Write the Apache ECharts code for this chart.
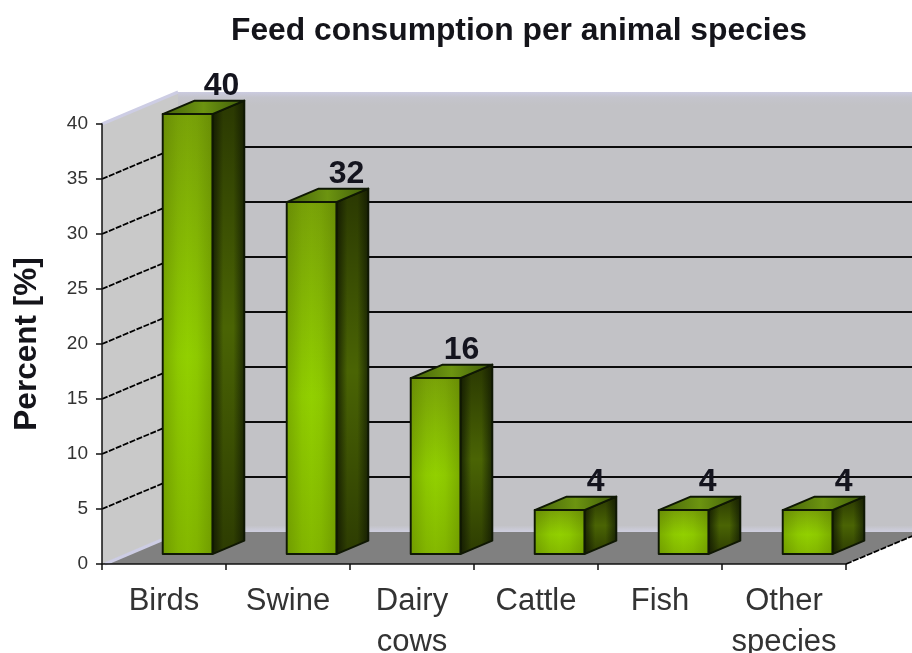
<!DOCTYPE html>
<html>
<head>
<meta charset="utf-8">
<title>Feed consumption per animal species</title>
<style>html,body{margin:0;padding:0;background:#fff}#chart{width:912px;height:653px}</style>
<script src="https://cdn.jsdelivr.net/npm/echarts@6/dist/echarts.min.js"></script>
</head>
<body>
<div id="chart"></div>
<script>
const categories = ['Birds', 'Swine', 'Dairy\ncows', 'Cattle', 'Fish', 'Other\nspecies'];
const percentValues = [40, 32, 16, 4, 4, 4];
const gridLevels = [5, 10, 15, 20, 25, 30, 35];

// Oblique projection of the box: pixels added per full unit of depth.
const depthX = 76;
const depthY = -32;
// Where a bar's front and back faces sit along the depth, and its share of a band.
const barFront = 0.31;
const barBack = 0.73;
const barShare = 0.4;
// Value labels are hand-nudged sideways from the centre of each bar.
const labelShift = [34, 35, 26, 36, 24, 36];

const linear = (x2, y2, stops) => ({
  type: 'linear', x: 0, y: 0, x2, y2,
  colorStops: stops.map(([offset, color]) => ({ offset, color }))
});
const poly = (points, style, z2) => ({ type: 'polygon', shape: { points }, style, z2, silent: true });
const segment = (a, b, style) => ({
  type: 'line', shape: { x1: a[0], y1: a[1], x2: b[0], y2: b[1] }, style, silent: true
});

function renderWalls(params, api) {
  const x0 = 0, xEnd = categories.length - 1;
  const band = api.size([1, 0])[0];
  const left = api.coord([x0, 0])[0] - band / 2;
  const right = api.coord([xEnd, 0])[0] + band / 2;
  const yAt = v => api.coord([x0, v])[1];
  const back = ([x, y]) => [x + depthX, y + depthY];
  const fl = [left, yAt(0)], tl = [left, yAt(40)], fr = [right, yAt(0)];
  const blb = back(fl), blt = back(tl), brb = back(fr), brt = [brb[0], blt[1]];
  const lavender = '#cdcde4';
  const children = [
    poly([tl, blt, blb, fl], { fill: '#c9c9c9' }),
    poly([blt, brt, brb, blb], {
      fill: linear(0, 1, [[0, '#cbcbe0'], [0.012, '#c4c4cc'], [0.03, '#c2c2c6'], [0.985, '#c2c2c6'], [1, '#cfcfe0']])
    }),
    poly([fl, blb, brb, fr], { fill: '#808080' }),
    segment(tl, blt, { stroke: lavender, lineWidth: 3 }),
    segment([fl[0] + 3, fl[1]], [blb[0], blb[1] + 1], { stroke: lavender, lineWidth: 3 }),
    segment(fr, [brb[0], brb[1]], { stroke: '#000', lineWidth: 1.7, lineDash: [6, 1.5] })
  ];
  gridLevels.forEach(v => {
    const a = [left, yAt(v)], b = back(a);
    children.push(segment(a, b, { stroke: '#000', lineWidth: 1.8, lineDash: [6, 1.5] }));
    children.push(segment(b, [brb[0], b[1]], { stroke: '#0c0c0c', lineWidth: 1.8 }));
  });
  return { type: 'group', children };
}

function renderBar(params, api) {
  const idx = api.value(0), val = api.value(1);
  const half = api.size([1, 0])[0] * barShare / 2;
  const base = api.coord([idx, 0]), top = api.coord([idx, val]);
  const fx = barFront * depthX, fy = barFront * depthY;
  const dx = (barBack - barFront) * depthX, dy = (barBack - barFront) * depthY;
  const l = base[0] + fx - half, r = base[0] + fx + half;
  const by = base[1] + fy, ty = top[1] + fy;
  const edge = { stroke: '#0f1804', lineWidth: 2, lineJoin: 'round' };
  const side = [[r, ty], [r + dx, ty + dy], [r + dx, by + dy], [r, by]];
  return {
    type: 'group',
    children: [
      poly(side, {
        ...edge,
        fill: linear(1, 0, [[0, '#141e02'], [0.35, '#4a6404'], [0.65, '#4a6404'], [1, '#1a2604']])
      }),
      poly(side, {
        fill: linear(0, 1, [[0, 'rgba(16,20,0,0.55)'], [0.5, 'rgba(16,20,0,0)'], [1, 'rgba(16,20,0,0.5)']])
      }),
      poly([[l, ty], [l + dx, ty + dy], [r + dx, ty + dy], [r, ty]], {
        ...edge,
        fill: linear(1, 0, [[0, '#45620a'], [0.5, '#6c9410'], [1, '#3e5a0a']])
      }),
      poly([[l, ty], [r, ty], [r, by], [l, by]], {
        ...edge,
        fill: linear(0, 1, [[0, '#79a208'], [0.55, '#92d000'], [1, '#84b800']])
      }),
      poly([[l + 1, ty + 1], [r - 1, ty + 1], [r - 1, by - 1], [l + 1, by - 1]], {
        fill: linear(1, 0, [[0, 'rgba(70,95,0,0.3)'], [0.3, 'rgba(70,95,0,0.06)'], [0.5, 'rgba(70,95,0,0)'], [0.7, 'rgba(70,95,0,0.06)'], [1, 'rgba(70,95,0,0.3)']])
      }),
      {
        type: 'text',
        silent: true,
        style: {
          x: base[0] + fx + labelShift[idx],
          y: ty - 28,
          text: String(val),
          font: 'bold 32px "Liberation Sans"',
          fill: '#14141e',
          align: 'center',
          verticalAlign: 'middle'
        }
      }
    ]
  };
}

const chart = echarts.init(document.getElementById('chart'), null, { renderer: 'canvas' });
chart.setOption({
  animation: false,
  backgroundColor: '#ffffff',
  title: {
    text: 'Feed consumption per animal species',
    left: 514,
    top: 10,
    textAlign: 'center',
    textStyle: { fontFamily: 'Liberation Sans', fontWeight: 'bold', fontSize: 31.8, color: '#14141a' }
  },
  grid: { left: 102, right: 66, top: 124, bottom: 89, containLabel: false, outerBoundsMode: 'none' },
  xAxis: {
    type: 'category',
    data: categories,
    z: 6,
    axisLine: { lineStyle: { color: '#111', width: 1.5 } },
    axisTick: { show: true, length: 6, alignWithLabel: false, lineStyle: { color: '#111', width: 1.5 } },
    axisLabel: {
      interval: 0, fontFamily: 'Liberation Sans', fontSize: 31, lineHeight: 41, color: '#333', margin: 17
    },
    splitLine: { show: false }
  },
  yAxis: {
    type: 'value',
    min: 0,
    max: 40,
    interval: 5,
    z: 6,
    name: 'Percent [%]',
    nameLocation: 'middle',
    nameGap: 59,
    nameRotate: 90,
    nameTextStyle: { fontFamily: 'Liberation Sans', fontWeight: 'bold', fontSize: 31.5, color: '#14141a' },
    axisLine: { show: true, lineStyle: { color: '#111', width: 1.5 } },
    axisTick: { show: true, length: 6, lineStyle: { color: '#111', width: 1.5 } },
    axisLabel: { fontFamily: 'Liberation Sans', fontSize: 19, color: '#333', margin: 14 },
    splitLine: { show: false }
  },
  series: [
    {
      type: 'custom',
      coordinateSystem: 'cartesian2d',
      renderItem: renderWalls,
      clip: false,
      silent: true,
      z: 1,
      data: [[0, 0]]
    },
    {
      type: 'custom',
      coordinateSystem: 'cartesian2d',
      renderItem: renderBar,
      clip: false,
      silent: true,
      z: 3,
      encode: { x: 0, y: 1 },
      data: percentValues.map((v, i) => [i, v])
    }
  ]
});
</script>
</body>
</html>
